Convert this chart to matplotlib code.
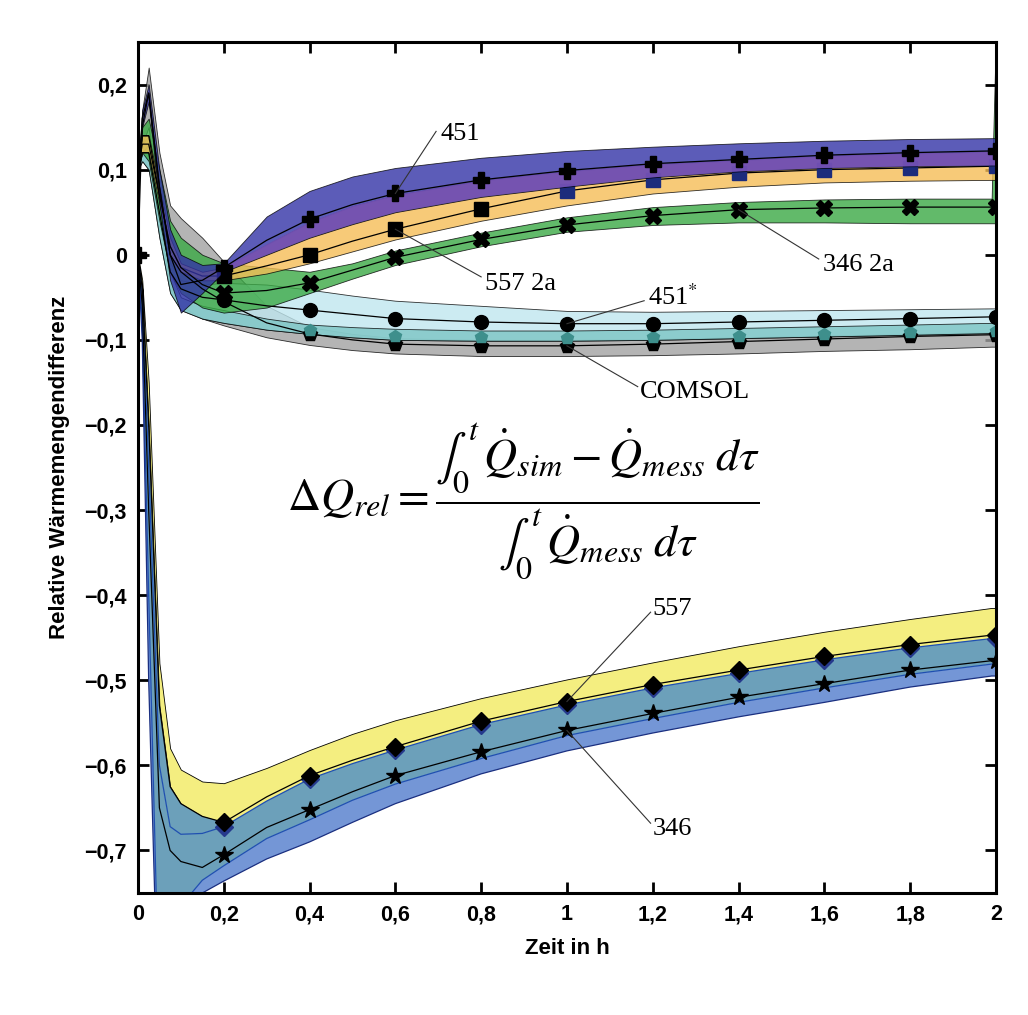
import numpy as np
import matplotlib
matplotlib.use("Agg")
import matplotlib.pyplot as plt

plt.rcParams['font.family'] = ['Liberation Sans', 'DejaVu Sans']
plt.rcParams['mathtext.fontset'] = 'stix'

# time grid in h
x = np.array([0, 0.01, 0.025, 0.05, 0.075, 0.1, 0.15, 0.2, 0.3, 0.4, 0.5, 0.6,
              0.8, 1.0, 1.2, 1.4, 1.6, 1.8, 1.99, 2.0])

# --- upper group ---
hi_451 = [0.1, 0.17, 0.2, 0.1, 0.03, 0.0, -0.012, -0.01, 0.045, 0.075, 0.092, 0.102,
          0.114, 0.122, 0.127, 0.131, 0.134, 0.136, 0.137, 0.137]
mid_451 = [0.0, 0.16, 0.19, 0.08, 0.0, -0.035, -0.03, -0.015, 0.017, 0.042, 0.059, 0.072,
           0.088, 0.099, 0.107, 0.112, 0.117, 0.12, 0.122, 0.122]
lo_451 = [0.08, 0.15, 0.18, 0.06, -0.03, -0.068, -0.045, -0.02, 0.0, 0.02, 0.036, 0.05,
          0.068, 0.08, 0.091, 0.098, 0.102, 0.104, 0.105, 0.105]

hi_557a = [0.1, 0.14, 0.14, 0.08, 0.02, -0.01, -0.02, -0.015, 0.012, 0.038, 0.057, 0.07,
           0.087, 0.098, 0.106, 0.111, 0.116, 0.119, 0.121, 0.121]
mid_557a = [0.1, 0.13, 0.13, 0.07, 0.01, -0.015, -0.025, -0.025, -0.013, 0.0, 0.016, 0.03,
            0.054, 0.075, 0.088, 0.096, 0.1, 0.102, 0.104, 0.104]
lo_557a = [0.1, 0.12, 0.12, 0.06, 0.0, -0.02, -0.03, -0.03, -0.022, -0.01, 0.004, 0.018,
           0.04, 0.058, 0.072, 0.08, 0.085, 0.087, 0.088, 0.088]

hi_346a = [0.1, 0.15, 0.16, 0.1, 0.04, 0.02, 0.0, -0.01, -0.015, -0.02, -0.01, 0.005,
           0.026, 0.044, 0.056, 0.062, 0.065, 0.066, 0.066, 0.26]
mid_346a = [0.1, 0.14, 0.14, 0.07, 0.01, -0.015, -0.035, -0.045, -0.042, -0.033, -0.018, -0.003,
            0.018, 0.035, 0.046, 0.053, 0.055, 0.056, 0.056, 0.056]
lo_346a = [0.1, 0.12, 0.11, 0.04, -0.02, -0.045, -0.062, -0.068, -0.062, -0.045, -0.028, -0.012,
           0.01, 0.027, 0.035, 0.038, 0.038, 0.037, 0.037, 0.037]

hi_451s = [0.1, 0.13, 0.14, 0.07, -0.01, -0.03, -0.035, -0.033, -0.035, -0.041, -0.048, -0.054,
           -0.06, -0.066, -0.067, -0.066, -0.065, -0.064, -0.063, -0.063]
mid_451s = [0.1, 0.12, 0.12, 0.05, -0.02, -0.04, -0.05, -0.053, -0.06, -0.065, -0.07, -0.075,
            -0.079, -0.081, -0.081, -0.079, -0.077, -0.075, -0.073, -0.073]
lo_451s = [0.1, 0.11, 0.1, 0.02, -0.045, -0.065, -0.075, -0.08, -0.088, -0.093, -0.097, -0.1,
           -0.101, -0.101, -0.1, -0.098, -0.096, -0.094, -0.092, -0.092]

hi_teal = [0.1, 0.12, 0.13, 0.06, -0.02, -0.05, -0.06, -0.065, -0.075, -0.082, -0.085, -0.087,
           -0.089, -0.089, -0.088, -0.086, -0.084, -0.082, -0.08, -0.08]
mid_teal = [0.1, 0.11, 0.11, 0.04, -0.03, -0.055, -0.068, -0.072, -0.082, -0.088, -0.092, -0.095,
            -0.097, -0.098, -0.097, -0.095, -0.093, -0.091, -0.089, -0.089]

hi_com = [0.1, 0.17, 0.22, 0.12, 0.058, 0.043, 0.02, -0.008, -0.06, -0.085, -0.093, -0.098,
          -0.1, -0.1, -0.099, -0.097, -0.095, -0.093, -0.091, -0.091]
mid_com = [0.1, 0.15, 0.19, 0.08, 0.0, -0.02, -0.04, -0.055, -0.08, -0.093, -0.1, -0.105,
           -0.107, -0.107, -0.105, -0.102, -0.099, -0.096, -0.094, -0.094]
lo_com = [0.1, 0.13, 0.15, 0.04, -0.04, -0.06, -0.075, -0.083, -0.097, -0.106, -0.112, -0.116,
          -0.119, -0.119, -0.118, -0.116, -0.113, -0.111, -0.108, -0.108]

# --- lower group ---
hi_557 = [0, -0.03, -0.15, -0.48, -0.58, -0.605, -0.619, -0.621, -0.603, -0.582, -0.563, -0.547,
          -0.521, -0.499, -0.479, -0.46, -0.443, -0.428, -0.415, -0.415]
mid_557 = [0, -0.04, -0.2, -0.53, -0.625, -0.645, -0.66, -0.667, -0.637, -0.612, -0.594, -0.578,
           -0.548, -0.525, -0.505, -0.488, -0.472, -0.458, -0.447, -0.447]
hi_346 = [0, -0.05, -0.25, -0.6, -0.672, -0.681, -0.68, -0.672, -0.642, -0.616, -0.598, -0.582,
          -0.552, -0.529, -0.509, -0.492, -0.476, -0.462, -0.451, -0.451]
mid_346 = [0, -0.06, -0.3, -0.65, -0.7, -0.713, -0.72, -0.705, -0.673, -0.652, -0.631, -0.612,
           -0.584, -0.559, -0.539, -0.52, -0.504, -0.488, -0.477, -0.477]
lo_557 = [0, -0.08, -0.4, -0.9, -0.85, -0.765, -0.735, -0.718, -0.686, -0.664, -0.641, -0.622,
          -0.592, -0.565, -0.545, -0.526, -0.509, -0.493, -0.481, -0.481]
lo_346 = [0, -0.1, -0.5, -0.95, -0.9, -0.8, -0.75, -0.736, -0.71, -0.69, -0.667, -0.645,
          -0.61, -0.583, -0.562, -0.543, -0.526, -0.508, -0.495, -0.495]

xticks = [0, 0.2, 0.4, 0.6, 0.8, 1, 1.2, 1.4, 1.6, 1.8, 2]
yticks = [-0.7, -0.6, -0.5, -0.4, -0.3, -0.2, -0.1, 0, 0.1, 0.2]

# label text, leader start (marker), leader end, text anchor
labels = [
    ("451", (0.6, 0.072), (0.695, 0.145), (0.705, 0.142)),
    ("557 2a", (0.6, 0.03), (0.8, -0.026), (0.81, -0.034)),
    ("346 2a", (1.4, 0.053), (1.587, -0.005), (1.598, -0.012)),
    ("451$^{*}$", (1.0, -0.081), (1.18, -0.054), (1.19, -0.05)),
    ("COMSOL", (1.0, -0.107), (1.165, -0.155), (1.17, -0.161)),
    ("557", (1.0, -0.525), (1.195, -0.42), (1.2, -0.416)),
    ("346", (1.0, -0.559), (1.195, -0.668), (1.2, -0.675)),
]


def fmt(v):
    s = f"{v:g}".replace('.', ',')
    return s.replace('-', '\u2212')


fig = plt.figure(figsize=(10.28, 10.15), dpi=100)
ax = fig.add_axes([0.1342, 0.1202, 0.8346, 0.8384])

mk = [i for i, v in enumerate(x) if v >= 0.2 and abs(v * 5 - round(v * 5)) < 1e-9]
mk_dark = [i for i in mk if x[i] >= 1.0]
mk_black = [i for i in mk if x[i] < 1.0]
edge = dict(edgecolor='k', linewidth=0.6)

# lower group regions
ax.fill_between(x, hi_557, mid_557, facecolor='#f4ee80', zorder=2, **edge)
ax.fill_between(x, mid_557, hi_346, where=x >= 0.2, facecolor='#f4ee80', linewidth=0, zorder=2)
ax.fill_between(x, hi_346, lo_557, facecolor='#6ca0ba', linewidth=0, zorder=2)
ax.fill_between(x, mid_557, hi_346, where=x <= 0.2, facecolor='#6ca0ba', linewidth=0, zorder=2)
ax.fill_between(x, lo_557, lo_346, facecolor='#7496d6', linewidth=0, zorder=2)
ax.plot(x, hi_346, color='#1f4fb0', lw=0.9, zorder=3)
ax.plot(x, lo_557, color='#1f4fb0', lw=0.9, zorder=3)
ax.plot(x, lo_346, color='#1a2f80', lw=0.9, zorder=3)
ax.plot(x, hi_346, ls='none', marker='D', ms=9, color='#25398c', markevery=mk, zorder=4)
ax.plot(x, mid_557, color='k', lw=0.9, marker='D', ms=9, markevery=mk, zorder=5)
ax.plot(x, mid_346, color='k', lw=0.9, marker='*', ms=13, markevery=mk, zorder=5)

# upper group bands
a = 0.8
ax.fill_between(x, lo_com, hi_com, facecolor='#a1a1a1', alpha=a, zorder=6, **edge)
ax.fill_between(x, lo_451s, hi_451s, facecolor='#c0e7ef', alpha=a, zorder=6, **edge)
ax.fill_between(x, lo_451s, hi_teal, facecolor='#7cc5c4', alpha=a, zorder=6, **edge)
ax.fill_between(x, lo_346a, hi_346a, facecolor='#3ba945', alpha=a, zorder=6, **edge)
ax.fill_between(x, lo_557a, hi_557a, facecolor='#f6bd56', alpha=a, zorder=6, **edge)
ax.plot(x, mid_557a, color='k', lw=0.9, zorder=7)
ax.plot(x, mid_557a, ls='none', marker='s', ms=10, color='k', markevery=mk_black, zorder=7)
ax.plot(x, mid_557a, ls='none', marker='s', ms=10, color='#1c2c7c', markevery=mk_dark, zorder=7)
ax.fill_between(x, lo_451, hi_451, facecolor='#3333a6', alpha=a, zorder=8, **edge)
ov_lo = np.maximum(lo_451, lo_557a)
ov_hi = np.minimum(hi_451, hi_557a)
ax.fill_between(x, ov_lo, ov_hi, where=(ov_hi > ov_lo) & (x >= 0.2),
                facecolor='#7a54b4', alpha=0.85, linewidth=0, zorder=8)

ax.plot(x, mid_com, color='k', lw=0.9, marker='p', ms=10, markevery=mk[1:], zorder=9)
ax.plot(x, mid_teal, ls='none', marker='p', ms=9, color='#3e8f8c', markevery=mk[1:], zorder=9)
ax.plot(x, mid_451s, color='k', lw=0.9, marker='o', ms=10, markevery=mk, zorder=9)
ax.plot(x, mid_346a, color='k', lw=0.9, marker='X', ms=11, markevery=mk, zorder=9)
ax.plot(x, mid_451, color='k', lw=0.9, marker='P', ms=11, markevery=[0] + mk, zorder=10)

# formula
ax.text(0.9, -0.29,
        r'$\Delta Q_{rel} = \dfrac{\int_0^t\,\dot{Q}_{sim} - \dot{Q}_{mess}\;d\tau}'
        r'{\int_0^t\,\dot{Q}_{mess}\;d\tau}$',
        ha='center', va='center', fontsize=33, zorder=12)

for txt, p0, p1, pt in labels:
    ax.plot([p0[0], p1[0]], [p0[1], p1[1]], color='#333333', lw=0.8, zorder=11)
    ax.text(pt[0], pt[1], txt, ha='left', va='center', fontsize=19,
            family='Liberation Serif', zorder=12)

ax.set_xlim(0, 2)
ax.set_ylim(-0.75, 0.25)
ax.set_xticks(xticks)
ax.set_yticks(yticks)
ax.set_xticklabels([fmt(v) for v in xticks], fontweight='bold', fontsize=15.5)
ax.set_yticklabels([fmt(v) for v in yticks], fontweight='bold', fontsize=15.5)
ax.tick_params(direction='in', length=8, width=2, top=True, right=True, pad=8)
for s in ax.spines.values():
    s.set_linewidth(2.2)
    s.set_zorder(20)

ax.set_xlabel('Zeit in h', fontweight='bold', fontsize=16, labelpad=9)
ax.set_ylabel('Relative Wärmemengendifferenz', fontweight='bold', fontsize=16, labelpad=10)

fig.savefig('out.png', dpi=100)
